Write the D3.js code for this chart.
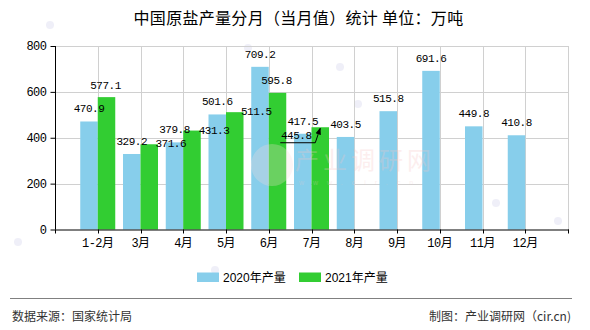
<!DOCTYPE html>
<html><head><meta charset="utf-8">
<script src="https://cdn.jsdelivr.net/npm/d3@7"></script>
<style>
html,body{margin:0;padding:0;background:#fff;}
svg{display:block;}
</style></head>
<body><svg id="c" width="590" height="330"></svg>
<script>
const categories = ["1-2月","3月","4月","5月","6月","7月","8月","9月","10月","11月","12月"];
const values2020 = [470.9,329.2,379.8,501.6,709.2,417.5,403.5,515.8,691.6,449.8,410.8];
const values2021 = [577.1,371.6,431.3,511.5,595.8,445.8];
const seriesNames = ["2020年产量","2021年产量"];
const yTicks = [0,200,400,600,800];
const colors = ["#87CEEB","#32CD32"];
// label nudges (layout only) for 2021 labels moved by collision avoidance
const nudge2021 = [[-1,1],[21.5,12],[22,12.5],[21.5,12],[-1,0.5],[-24,21]];

const svg = d3.select("#c");
const L = 55, R = 568, T = 46, B = 229.5;
const step = (R - L) / 12;
const x = d3.scaleBand().domain(categories).range([L + step/2, R - step/2]).padding(0);
const xs = d3.scaleBand().domain(seriesNames).range([-17.5, 17.5]);
const y = d3.scaleLinear().domain([0, 800]).range([B, T]);
const cx = c => x(c) + x.bandwidth()/2;
const monoFont = "'Liberation Mono','Noto Sans CJK SC',monospace";

// faint dots
[[50,25],[340,67],[358,104],[496,203],[558,221],[18,242],[215,270],[248,48]].forEach(p=>{
  svg.append("circle").attr("cx",p[0]).attr("cy",p[1]).attr("r",4).attr("fill","#e4e4f4").attr("opacity",0.6);
});

// gridlines
const grid = svg.append("g").attr("stroke", "#d0d0d0").attr("stroke-width", 1);
yTicks.filter(v => v > 0).forEach(v => {
  grid.append("line").attr("x1", L).attr("x2", R).attr("y1", Math.round(y(v))+0.5).attr("y2", Math.round(y(v))+0.5);
});
categories.forEach(c => {
  const gx = Math.round(cx(c)) + 0.5;
  grid.append("line").attr("x1", gx).attr("x2", gx).attr("y1", T).attr("y2", B);
});
grid.append("line").attr("x1", R+0.5).attr("x2", R+0.5).attr("y1", T).attr("y2", B);

// bars
const bars = svg.append("g");
[values2020, values2021].forEach((vals, si) => {
  bars.selectAll(null).data(vals).enter().append("rect")
    .attr("x", (d,i) => cx(categories[i]) + xs(seriesNames[si]))
    .attr("width", xs.bandwidth())
    .attr("y", d => y(d))
    .attr("height", d => B - y(d))
    .attr("fill", colors[si]);
});

// watermark (drawn faintly over the bars)
const wm = svg.append("g").attr("opacity", 0.28);
wm.append("circle").attr("cx", 272).attr("cy", 165).attr("r", 21).attr("fill", "#fbdcdc");
wm.append("text").attr("x", 295).attr("y", 169).attr("font-size", 24).attr("fill", "#f7c4c4")
  .attr("font-family", "'Noto Sans CJK SC',sans-serif").attr("letter-spacing", 4).text("产业调研网");
wm.append("text").attr("x", 299).attr("y", 185).attr("font-size", 7).attr("fill", "#f0caca")
  .attr("font-family", "'Liberation Sans',sans-serif").attr("letter-spacing", 9).text("www.cir.cn");

// axes
const yAxis = svg.append("g").attr("transform", `translate(${L+0.5},0)`)
  .call(d3.axisLeft(y).tickValues(yTicks).tickSize(5).tickPadding(4).tickFormat(d3.format("d")));
const xAxis = svg.append("g").attr("transform", `translate(0,${B})`)
  .call(d3.axisBottom(x).tickSize(0).tickPadding(9));
[L, ...categories.map(cx), R].forEach(v => {
  xAxis.append("line").attr("x1", Math.round(v)+0.5).attr("x2", Math.round(v)+0.5).attr("y1", 0).attr("y2", 4).attr("stroke", "#000");
});
[yAxis, xAxis].forEach(a => {
  a.select(".domain").attr("stroke", "#000");
  a.selectAll("line").attr("stroke", "#000");
  a.selectAll("text").attr("font-family", monoFont).attr("font-size", 12).attr("fill", "#000").attr("letter-spacing", -0.5);
});
xAxis.select(".domain").attr("d", `M${L},0.5H${R+1}`);
yAxis.select(".domain").attr("d", `M0,${T}V${B}`);

// value labels
const lab = svg.append("g").attr("font-family", monoFont).attr("font-size", 11)
  .attr("letter-spacing", -0.5).attr("text-anchor", "middle").attr("fill", "#000");
values2020.forEach((v,i) => {
  lab.append("text").attr("x", cx(categories[i]) + xs(seriesNames[0]) + xs.bandwidth()/2)
    .attr("y", y(v) - 9).text(v.toFixed(1));
});
values2021.forEach((v,i) => {
  const n = nudge2021[i];
  lab.append("text").attr("x", cx(categories[i]) + xs(seriesNames[1]) + xs.bandwidth()/2 + n[0])
    .attr("y", y(v) - 9 + n[1]).text(v.toFixed(1));
});
// leader line for last 2021 label
{
  const i = values2021.length - 1, v = values2021[i], n = nudge2021[i];
  const lx = cx(categories[i]) + xs(seriesNames[1]) + xs.bandwidth()/2 + n[0];
  const ly = y(v) - 9 + n[1] + 3.5;
  const tx = cx(categories[i]) + xs(seriesNames[1]) + xs.bandwidth()/2, ty = y(v) + 1;
  svg.append("defs").append("marker").attr("id","arr").attr("viewBox","0 0 10 10").attr("refX",9).attr("refY",5)
    .attr("markerWidth",7).attr("markerHeight",7).attr("orient","auto")
    .append("path").attr("d","M0,1L10,5L0,9Z").attr("fill","#000");
  svg.append("path").attr("d", `M${lx-16},${ly}H${lx+19}L${tx},${ty}`)
    .attr("fill","none").attr("stroke","#000").attr("stroke-width",1).attr("marker-end","url(#arr)");
}

// title
svg.append("text").attr("x", 298.5).attr("y", 24).attr("text-anchor", "middle")
  .attr("font-family", "'Noto Sans CJK SC',sans-serif").attr("font-size", 16).attr("fill", "#000")
  .attr("letter-spacing", 0.3)
  .text("中国原盐产量分月（当月值）统计 单位：万吨");

// legend
const lg = svg.append("g").attr("font-family", "'Liberation Sans','Noto Sans CJK SC',sans-serif").attr("font-size", 12);
const legX = [197, 299];
seriesNames.forEach((s,i) => {
  lg.append("rect").attr("x", legX[i]).attr("y", 272.5).attr("width", 22).attr("height", 9.5).attr("fill", colors[i]);
  lg.append("text").attr("x", legX[i] + 26).attr("y", 282).attr("fill", "#000").text(s);
});

// footer
svg.append("line").attr("x1", 10).attr("x2", 572).attr("y1", 298.5).attr("y2", 298.5).attr("stroke", "#808080").attr("stroke-width", 1.2);
const ff = "'Noto Sans CJK SC',sans-serif";
svg.append("text").attr("x", 12).attr("y", 321).attr("font-family", ff).attr("font-size", 12).attr("fill", "#333").text("数据来源：国家统计局");
svg.append("text").attr("x", 571).attr("y", 321).attr("text-anchor", "end").attr("font-family", ff).attr("font-size", 12).attr("fill", "#333").text("制图：产业调研网（cir.cn)");
</script></body></html>
